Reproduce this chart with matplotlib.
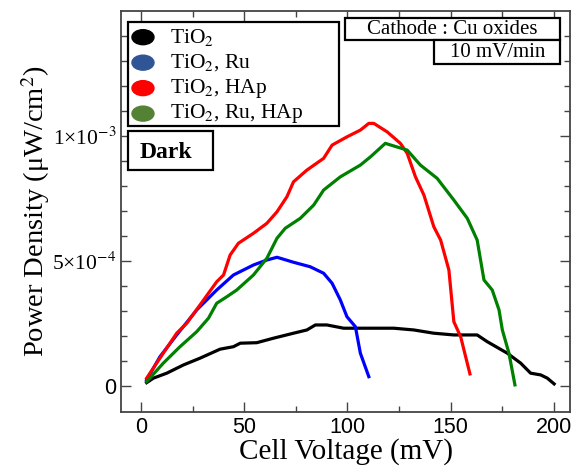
import matplotlib
matplotlib.use("Agg")
import matplotlib.pyplot as plt
from matplotlib.patches import Ellipse
import numpy as np

plt.rcParams['mathtext.fontset'] = 'stix'

# Cell voltage (mV) and power density (units of 1e-4 uW/cm2)
v_tio2 = [2.75, 6.0, 12.5, 20.6, 28.6, 38.3, 44.8, 48.1, 56.1, 64.2, 73.9, 80.4, 84.5,
          90.1, 98.2, 106.3, 122.5, 132.2, 141.9, 151.6, 162.9, 167.8, 177.5, 184.0,
          188.8, 193.7, 196.9, 200.2]
p_tio2 = [0.13, 0.31, 0.51, 0.84, 1.11, 1.47, 1.57, 1.71, 1.73, 1.91, 2.11, 2.24, 2.44,
          2.44, 2.31, 2.31, 2.31, 2.24, 2.11, 2.04, 2.04, 1.77, 1.31, 0.91,
          0.51, 0.44, 0.31, 0.08]

v_ru = [2.75, 9.2, 17.3, 27.0, 36.7, 44.8, 54.5, 61.0, 65.9, 73.9, 82.0, 88.5, 92.6,
        96.6, 99.8, 103.9, 106.3, 110.4]
p_ru = [0.24, 1.17, 2.04, 3.04, 3.84, 4.44, 4.84, 5.04, 5.15, 4.95, 4.77, 4.51, 4.11,
        3.44, 2.77, 2.37, 1.31, 0.37]

v_hap = [2.75, 10.8, 17.3, 22.2, 28.6, 36.7, 40.0, 43.2, 47.2, 54.5, 61.0, 65.9, 70.7,
         73.9, 80.4, 88.5, 92.6, 99.8, 106.3, 110.4, 112.8, 119.3, 125.7, 129.0,
         133.0, 137.1, 141.9, 145.2, 149.2, 151.6, 154.9, 159.4]
p_hap = [0.31, 1.31, 2.11, 2.51, 3.24, 4.17, 4.44, 5.24, 5.71, 6.11, 6.51, 6.97, 7.57,
         8.17, 8.64, 9.11, 9.64, 9.97, 10.24, 10.51, 10.51, 10.17, 9.71, 9.31,
         8.37, 7.64, 6.37, 5.84, 4.64, 2.57, 1.97, 0.48]

v_ru_hap = [2.75, 10.8, 18.9, 27.0, 32.7, 36.7, 41.6, 46.4, 54.5, 61.0, 65.9, 69.9,
            77.2, 83.7, 88.5, 96.6, 106.3, 111.2, 118.4, 129.0, 135.4, 143.5, 151.6,
            158.1, 162.9, 166.2, 170.2, 173.5, 175.1, 178.3, 181.2]
p_ru_hap = [0.17, 0.91, 1.57, 2.17, 2.71, 3.31, 3.57, 3.84, 4.44, 5.11, 5.91, 6.31,
            6.71, 7.24, 7.84, 8.37, 8.84, 9.17, 9.71, 9.44, 8.84, 8.31, 7.44,
            6.71, 5.84, 4.24, 3.84, 3.04, 2.24, 1.31, 0.04]

labels = ['TiO$_2$', 'TiO$_2$, Ru', 'TiO$_2$, HAp', 'TiO$_2$, Ru, HAp']
line_colors = ['black', '#0000ff', '#ff0000', '#008000']
dot_colors = ['black', '#2f5597', '#ff0000', '#548235']

fig = plt.figure(figsize=(5.76, 4.67), dpi=100)
ax = fig.add_axes([0.210, 0.118, 0.780, 0.858])

series = [(v_tio2, p_tio2), (v_ru, p_ru), (v_hap, p_hap), (v_ru_hap, p_ru_hap)]
for (v, p), c in zip(series, line_colors):
    ax.plot(v, np.array(p) * 1e-4, color=c, lw=2.3, solid_joinstyle='round')

ax.set_xlim(-9.7, 208)
ax.set_ylim(-1.04e-4, 1.5e-3)
ax.set_xticks([0, 50, 100, 150, 200])
ax.set_xticks(np.arange(25, 200, 50), minor=True)
ax.set_yticks([0, 5e-4, 1e-3])
ax.set_yticks(np.arange(1e-4, 1.5e-3, 1e-4), minor=True)
ax.set_yticklabels(['0', '5×10$^{-4}$', '1×10$^{-3}$'], family='Liberation Serif', fontsize=15.5)
for t in ax.get_xticklabels():
    t.set_family('Liberation Sans')
    t.set_fontsize(15.5)
ax.get_yticklabels()[0].set_family('Liberation Sans')
ax.get_yticklabels()[0].set_fontsize(15.5)
ax.tick_params(which='both', direction='in', top=True, right=True, color='#444444')
ax.tick_params(which='major', length=7, width=1)
ax.tick_params(which='minor', length=4, width=1)
for s in ax.spines.values():
    s.set_color('#444444')
    s.set_linewidth(1.3)

ax.set_xlabel('Cell Voltage (mV)', family='Liberation Serif', fontsize=21, labelpad=0)
ax.set_ylabel('Power Density (μW/cm$^2$)', family='Liberation Serif', fontsize=20.5, labelpad=0)

# legend box drawn by hand with oval markers
tr = ax.transAxes
def px(x, y):
    # figure pixel -> axes fraction
    return ((x - 121) / 449.0, (412 - y) / 401.0)

x0, y0 = px(128, 126)
x1, y1 = px(339, 22)
ax.add_patch(plt.Rectangle((x0, y0), x1 - x0, y1 - y0, transform=tr, fc='white',
                           ec='black', lw=1.6, zorder=5))
for i, (lab, c) in enumerate(zip(labels, dot_colors)):
    yy = 37 + i * 25.5
    cx, cy = px(143, yy)
    ax.add_patch(Ellipse((cx, cy), 22 / 449.0, 15 / 401.0, transform=tr, color=c, zorder=6))
    tx, ty = px(170, yy)
    ax.text(tx, ty, lab, transform=tr, family='Liberation Serif', fontsize=15.5,
            va='center', ha='left', zorder=6)

# Dark box
x0, y0 = px(128, 170)
x1, y1 = px(213, 131)
ax.add_patch(plt.Rectangle((x0, y0), x1 - x0, y1 - y0, transform=tr, fc='white',
                           ec='black', lw=1.6, zorder=5))
tx, ty = px(140, 152)
ax.text(tx, ty, 'Dark', transform=tr, family='Liberation Serif', fontsize=17,
        fontweight='bold', va='center', ha='left', zorder=6)

# Cathode / scan-rate boxes
x0, y0 = px(345, 40)
x1, y1 = px(560, 18)
ax.add_patch(plt.Rectangle((x0, y0), x1 - x0, y1 - y0, transform=tr, fc='white',
                           ec='black', lw=1.6, zorder=5))
tx, ty = px(452, 29)
ax.text(tx, ty, 'Cathode : Cu oxides', transform=tr, family='Liberation Serif',
        fontsize=15, va='center', ha='center', zorder=6)
x0, y0 = px(434, 64)
x1, y1 = px(560, 40)
ax.add_patch(plt.Rectangle((x0, y0), x1 - x0, y1 - y0, transform=tr, fc='white',
                           ec='black', lw=1.6, zorder=5))
tx, ty = px(497, 52)
ax.text(tx, ty, '10 mV/min', transform=tr, family='Liberation Serif',
        fontsize=15, va='center', ha='center', zorder=6)

fig.savefig('out.png', dpi=100)
